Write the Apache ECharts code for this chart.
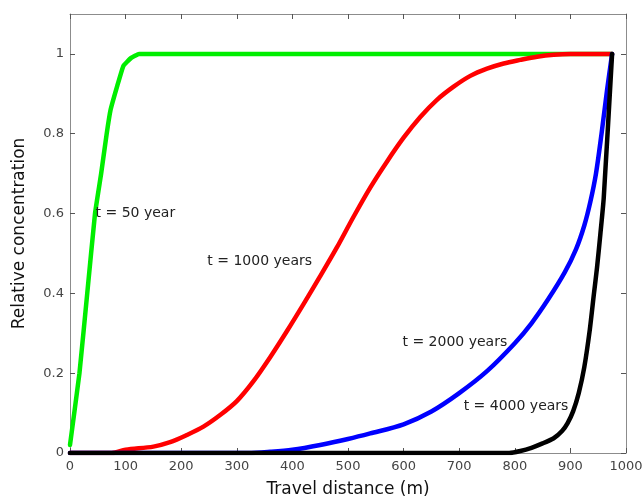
<!DOCTYPE html>
<html>
<head>
<meta charset="utf-8">
<script src="https://cdn.jsdelivr.net/npm/echarts@6/dist/echarts.min.js"></script>
<style>
  html, body { margin: 0; padding: 0; background: #fff; }
  #chart { width: 642px; height: 498px; }
</style>
</head>
<body>
<div id="chart"></div>
<script>
// Relative concentration versus travel distance (m) at four times
const xTicks = [0, 100, 200, 300, 400, 500, 600, 700, 800, 900, 1000];
const yTicks = [0, 0.2, 0.4, 0.6, 0.8, 1];

const t50 = [[0, 0.02], [17, 0.2], [31, 0.4], [45, 0.6], [56, 0.7], [66, 0.8], [73, 0.86], [85, 0.92], [96, 0.97], [110, 0.99], [124, 1], [975, 1]];
const t1000 = [[0, 0], [75, 0], [100, 0.008], [150, 0.016], [180, 0.027], [210, 0.045], [240, 0.066], [270, 0.095], [300, 0.13], [330, 0.18], [360, 0.24], [390, 0.305], [420, 0.373], [450, 0.443], [480, 0.515], [510, 0.592], [540, 0.665], [570, 0.73], [600, 0.79], [630, 0.842], [660, 0.885], [690, 0.918], [720, 0.945], [750, 0.963], [780, 0.976], [810, 0.985], [840, 0.993], [870, 0.998], [900, 1], [975, 1]];
const t2000 = [[0, 0], [320, 0], [360, 0.003], [400, 0.008], [450, 0.02], [500, 0.035], [540, 0.049], [600, 0.072], [650, 0.104], [700, 0.15], [750, 0.205], [800, 0.275], [830, 0.325], [860, 0.385], [890, 0.453], [910, 0.51], [925, 0.57], [936, 0.63], [946, 0.70], [956, 0.8], [966, 0.91], [975, 1]];
const t4000 = [[0, 0], [790, 0], [810, 0.005], [830, 0.013], [850, 0.024], [870, 0.037], [885, 0.055], [895, 0.075], [905, 0.105], [915, 0.15], [925, 0.215], [935, 0.31], [942, 0.395], [948, 0.466], [954, 0.55], [960, 0.64], [975, 1]];

const curveNames = ['t = 50 year', 't = 1000 years', 't = 2000 years', 't = 4000 years'];
const labelAt = [[46, 0.6], [247, 0.48], [598, 0.2775], [708, 0.1175]];

const FONT = '"DejaVu Sans", sans-serif';
const boxColor = '#8c8c8c';

function curve(data, color, idx, smooth) {
  return {
    type: 'line',
    name: curveNames[idx],
    data: data,
    showSymbol: false,
    symbol: 'none',
    smooth: smooth,
    lineStyle: { color: color, width: 4.5, join: 'round', cap: 'round' },
    itemStyle: { color: color },
    z: 2 + idx,
    animation: false,
    markPoint: {
      symbol: 'circle',
      symbolSize: 0,
      silent: true,
      data: [{ coord: labelAt[idx] }],
      label: {
        show: true,
        position: 'right',
        distance: 0,
        formatter: curveNames[idx],
        color: '#222',
        fontFamily: FONT,
        fontSize: 14
      }
    }
  };
}

const chart = echarts.init(document.getElementById('chart'), null, { renderer: 'canvas' });

const baseX = {
  type: 'value', min: 0, max: 1000, interval: 100,
  axisLine: { show: true, onZero: false, lineStyle: { color: boxColor, width: 1 } },
  axisTick: { show: true, inside: true, length: 5, lineStyle: { color: '#555' } },
  splitLine: { show: false }
};
const baseY = {
  type: 'value', min: 0, max: 1.1, interval: 0.2,
  axisLine: { show: true, onZero: false, lineStyle: { color: boxColor, width: 1 } },
  axisTick: { show: true, inside: true, length: 5, customValues: yTicks, lineStyle: { color: '#555' } },
  splitLine: { show: false }
};

chart.setOption({
  backgroundColor: '#fff',
  animation: false,
  grid: { left: 70, right: 16, top: 14, bottom: 45, containLabel: false, outerBoundsMode: 'none' },
  xAxis: [
    Object.assign({}, baseX, {
      position: 'bottom',
      name: 'Travel distance (m)',
      nameLocation: 'middle',
      nameGap: 28,
      nameTextStyle: { fontFamily: FONT, fontSize: 17, color: '#111' },
      axisLabel: { show: true, margin: 7, fontFamily: FONT, fontSize: 13, color: '#444',
        customValues: xTicks, formatter: v => String(v) }
    }),
    Object.assign({}, baseX, { position: 'top', axisLabel: { show: false } })
  ],
  yAxis: [
    Object.assign({}, baseY, {
      position: 'left',
      name: 'Relative concentration',
      nameLocation: 'middle',
      nameGap: 42,
      nameTextStyle: { fontFamily: FONT, fontSize: 17, color: '#111' },
      axisLabel: { show: true, margin: 6, fontFamily: FONT, fontSize: 13, color: '#444',
        customValues: yTicks, formatter: v => String(+v.toFixed(1)) }
    }),
    Object.assign({}, baseY, { position: 'right', axisLabel: { show: false } })
  ],
  series: [
    curve(t50, '#00ee00', 0, 0.1),
    curve(t1000, '#ff0000', 1, 0.3),
    curve(t2000, '#0000ff', 2, 0.3),
    curve(t4000, '#000000', 3, 0.2)
  ]
});
</script>
</body>
</html>
